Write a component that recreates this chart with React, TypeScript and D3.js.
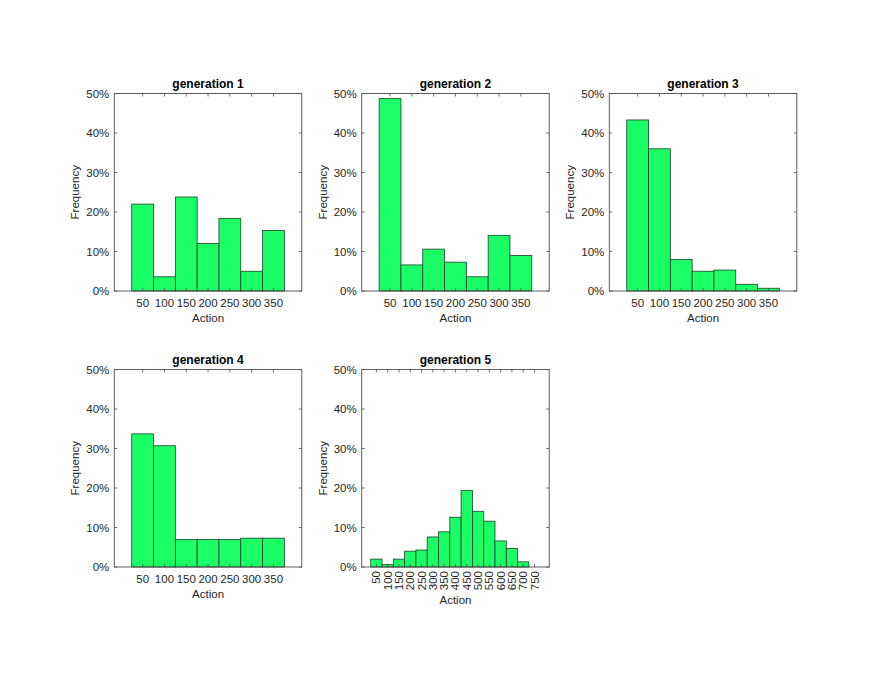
import React from "react";
import * as d3 from "d3";

// bin centres (Action) and frequencies in % for each generation
const actions7 = [50, 100, 150, 200, 250, 300, 350];
const actions15 = [50, 100, 150, 200, 250, 300, 350, 400, 450, 500, 550, 600, 650, 700, 750];

const gen1 = [22.0, 3.6, 23.8, 12.0, 18.4, 5.0, 15.3];
const gen2 = [48.7, 6.6, 10.6, 7.3, 3.6, 14.1, 9.0];
const gen3 = [43.3, 36.0, 8.0, 5.0, 5.3, 1.7, 0.7];
const gen4 = [33.7, 30.7, 7.0, 7.0, 7.0, 7.3, 7.3];
const gen5 = [2.0, 0.6, 2.0, 4.0, 4.3, 7.6, 8.9, 12.6, 19.4, 14.1, 11.6, 6.6, 4.7, 1.3, 0];

const yTicks = [0, 10, 20, 30, 40, 50];
const titles = ["generation 1", "generation 2", "generation 3", "generation 4", "generation 5"];

const panels = [
    { title: titles[0], actions: actions7, freq: gen1 },
    { title: titles[1], actions: actions7, freq: gen2 },
    { title: titles[2], actions: actions7, freq: gen3 },
    { title: titles[3], actions: actions7, freq: gen4 },
    { title: titles[4], actions: actions15, freq: gen5 },
];

const width = 881,
    height = 681;
const colX = [114.3, 361.7, 609.3];
const rowY = [93.5, 369.5];
const pw = 187.5,
    ph = 197.5;
const font = "'Liberation Sans', Arial, Helvetica, sans-serif";
const boxColor = "#4d4d4d";
const textColor = "#262626";
const fs = 11.5;

type PanelProps = {
    title: string;
    actions: number[];
    freq: number[];
    left: number;
    top: number;
};

const Panel: React.FC<PanelProps> = ({ title, actions, freq, left, top }) => {
    const binW = actions[1] - actions[0];
    const x = d3
        .scaleLinear()
        .domain([actions[0] - binW / 2 - 40, actions[actions.length - 1] + binW / 2 + 40])
        .range([0, pw]);
    const y = d3.scaleLinear().domain([0, 50]).range([ph, 0]);
    const rotate = actions.length > 7;
    const tick = 3;

    return (
        <g transform={`translate(${left},${top})`} fontFamily={font} fill={textColor}>
            {/* bars */}
            {freq.map((f, i) =>
                f > 0 ? (
                    <rect
                        key={i}
                        x={x(actions[i] - binW / 2)}
                        y={y(f)}
                        width={x(actions[i] + binW / 2) - x(actions[i] - binW / 2)}
                        height={ph - y(f)}
                        fill="#1aff66"
                        stroke="#1f3d29"
                        strokeWidth={0.8}
                    />
                ) : null
            )}
            {/* box */}
            <rect x={0} y={0} width={pw} height={ph} fill="none" stroke={boxColor} strokeWidth={0.9} />
            {/* y ticks */}
            {yTicks.map((t) => (
                <g key={t}>
                    <line x1={0} x2={tick} y1={y(t)} y2={y(t)} stroke={boxColor} strokeWidth={0.8} />
                    <line x1={pw} x2={pw - tick} y1={y(t)} y2={y(t)} stroke={boxColor} strokeWidth={0.8} />
                    <text x={-5} y={y(t)} dy="0.35em" textAnchor="end" fontSize={fs}>
                        {t}%
                    </text>
                </g>
            ))}
            {/* x ticks */}
            {actions.map((a) => (
                <g key={a}>
                    <line x1={x(a)} x2={x(a)} y1={ph} y2={ph - tick} stroke={boxColor} strokeWidth={0.8} />
                    <line x1={x(a)} x2={x(a)} y1={0} y2={tick} stroke={boxColor} strokeWidth={0.8} />
                    {rotate ? (
                        <text
                            transform={`translate(${x(a)},${ph + 4}) rotate(-90)`}
                            dy="0.35em"
                            textAnchor="end"
                            fontSize={fs}
                        >
                            {a}
                        </text>
                    ) : (
                        <text x={x(a)} y={ph + 16} textAnchor="middle" fontSize={fs}>
                            {a}
                        </text>
                    )}
                </g>
            ))}
            <text x={pw / 2} y={rotate ? ph + 37 : ph + 31} textAnchor="middle" fontSize={fs}>
                Action
            </text>
            <text transform={`translate(-35,${ph / 2}) rotate(-90)`} textAnchor="middle" fontSize={fs}>
                Frequency
            </text>
            <text x={pw / 2} y={-5.5} textAnchor="middle" fontSize={12} fontWeight="bold" fill="#000">
                {title}
            </text>
        </g>
    );
};

export default function App() {
    return (
        <svg
            width={width}
            height={height}
            style={{ position: "absolute", left: 0, top: 0, background: "#fff" }}
        >
            {panels.map((p, i) => (
                <Panel
                    key={p.title}
                    title={p.title}
                    actions={p.actions}
                    freq={p.freq}
                    left={colX[i % 3]}
                    top={rowY[Math.floor(i / 3)]}
                />
            ))}
        </svg>
    );
}
